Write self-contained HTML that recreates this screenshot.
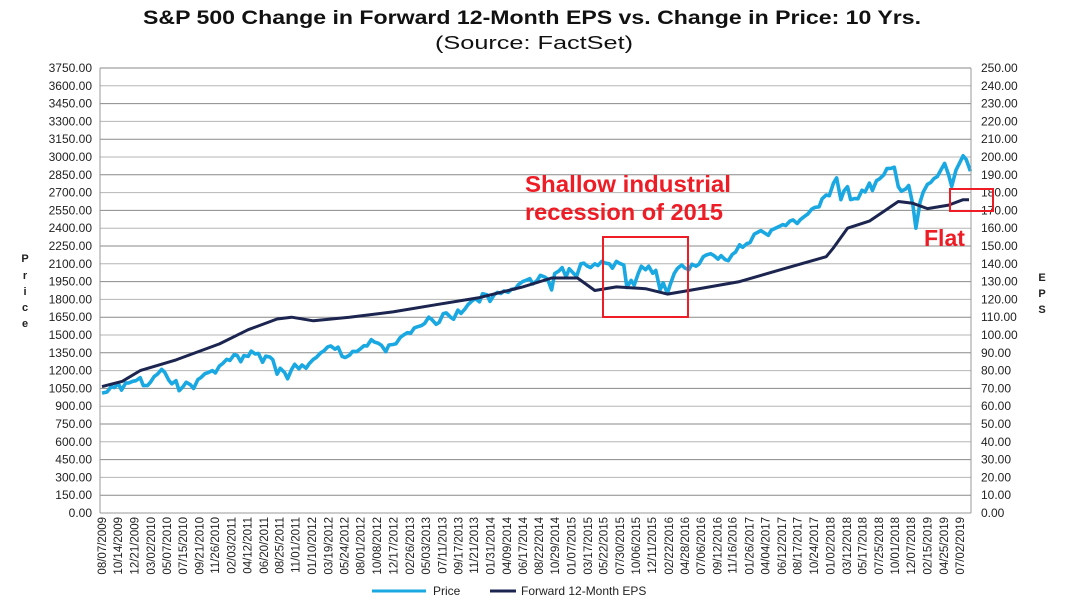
<!DOCTYPE html>
<html><head><meta charset="utf-8"><style>
body{margin:0;background:#fff;}
svg{font-family:"Liberation Sans",Arial,sans-serif;}
</style></head><body>
<svg id="chart" width="1065" height="609" viewBox="0 0 1065 609" xmlns="http://www.w3.org/2000/svg">
<text x="143" y="24" textLength="778" lengthAdjust="spacingAndGlyphs" font-size="19" font-weight="bold" fill="#111">S&amp;P 500 Change in Forward 12-Month EPS vs. Change in Price: 10 Yrs.</text>
<text x="435" y="49" textLength="198" lengthAdjust="spacingAndGlyphs" font-size="18" fill="#111">(Source: FactSet)</text>
<g id="grid"></g>
<g id="leftTicks"></g>
<g id="rightTicks"></g>
<g id="xTicks"></g>
<path id="priceLine" fill="none" stroke="#1aa8e2" stroke-width="3.6" stroke-linejoin="round"/>
<path id="epsLine" fill="none" stroke="#1b2550" stroke-width="3" stroke-linejoin="round"/>
<line x1="100" y1="68" x2="100" y2="513" stroke="#999"/>
<line x1="971" y1="68" x2="971" y2="513" stroke="#999"/>
<line x1="100" y1="513" x2="971" y2="513" stroke="#999"/>
<g font-size="11" font-weight="bold" fill="#222">
<text x="25" y="262" text-anchor="middle">P</text><text x="25" y="279" text-anchor="middle">r</text><text x="25" y="295" text-anchor="middle">i</text><text x="25" y="311" text-anchor="middle">c</text><text x="25" y="327" text-anchor="middle">e</text></g>
<g font-size="11" font-weight="bold" fill="#222">
<text x="1042" y="281" text-anchor="middle">E</text><text x="1042" y="297" text-anchor="middle">P</text><text x="1042" y="313" text-anchor="middle">S</text></g>
<g fill="#ee1c25" font-weight="bold" font-size="23">
<text x="525" y="192" textLength="206" lengthAdjust="spacingAndGlyphs">Shallow industrial</text>
<text x="525" y="220" textLength="198" lengthAdjust="spacingAndGlyphs">recession of 2015</text>
<text x="924" y="246">Flat</text></g>
<rect x="603" y="237" width="85" height="80" fill="none" stroke="#ee1c25" stroke-width="2"/>
<rect x="950" y="189" width="43" height="22" fill="none" stroke="#ee1c25" stroke-width="2"/>
<g>
<line x1="372" y1="591" x2="426" y2="591" stroke="#1aa8e2" stroke-width="3"/>
<text x="433" y="595" font-size="12" fill="#222">Price</text>
<line x1="490" y1="591" x2="516" y2="591" stroke="#1b2550" stroke-width="3"/>
<text x="521" y="595" font-size="12" fill="#222">Forward 12-Month EPS</text>
</g>
</svg>
<script>
const xLabels=["08/07/2009","10/14/2009","12/21/2009","03/02/2010","05/07/2010","07/15/2010","09/21/2010","11/26/2010","02/03/2011","04/12/2011","06/20/2011","08/25/2011","11/01/2011","01/10/2012","03/19/2012","05/24/2012","08/01/2012","10/08/2012","12/17/2012","02/26/2013","05/03/2013","07/11/2013","09/17/2013","11/21/2013","01/31/2014","04/09/2014","06/17/2014","08/22/2014","10/29/2014","01/07/2015","03/17/2015","05/22/2015","07/30/2015","10/06/2015","12/11/2015","02/22/2016","04/28/2016","07/06/2016","09/12/2016","11/16/2016","01/26/2017","04/04/2017","06/12/2017","08/17/2017","10/24/2017","01/02/2018","03/12/2018","05/17/2018","07/25/2018","10/01/2018","12/07/2018","02/15/2019","04/25/2019","07/02/2019"];
const leftTicks=[0,150,300,450,600,750,900,1050,1200,1350,1500,1650,1800,1950,2100,2250,2400,2550,2700,2850,3000,3150,3300,3450,3600,3750];
const rightTicks=[0,10,20,30,40,50,60,70,80,90,100,110,120,130,140,150,160,170,180,190,200,210,220,230,240,250];
// price: two values per month (mid, end) starting Aug 2009
const priceStart="2009-08";
const priceVals=[1010,1020,1065,1057,1090,1036,1095,1096,1110,1115,
1140,1074,1075,1104,1150,1169,1210,1187,1120,1089,1115,1031,1065,1102,1080,1049,1125,1141,1175,1183,1200,1181,1240,1258,
1295,1286,1335,1327,1275,1326,1320,1364,1340,1345,1270,1321,1315,1292,1170,1219,1185,1131,1210,1253,1215,1247,1220,1258,
1295,1312,1350,1366,1400,1408,1380,1398,1320,1310,1330,1362,1360,1379,1410,1407,1460,1441,1430,1412,1360,1416,1420,1426,
1480,1498,1520,1515,1560,1569,1580,1598,1650,1631,1590,1606,1680,1686,1650,1633,1710,1682,1720,1757,1790,1806,1780,1848,
1840,1783,1840,1859,1850,1872,1860,1884,1890,1924,1950,1960,1975,1931,1960,2003,1990,1972,1880,2018,2040,2068,1990,2059,
2020,1995,2100,2105,2080,2068,2100,2086,2120,2107,2100,2063,2120,2104,2090,1900,1960,1920,2020,2079,2050,2080,2020,2044,
1880,1940,1850,1932,2020,2060,2090,2065,2050,2097,2080,2099,2160,2174,2185,2171,2140,2168,2135,2126,2180,2199,2260,2239,
2270,2279,2350,2364,2380,2363,2340,2384,2400,2412,2430,2423,2460,2470,2440,2472,2500,2519,2560,2575,2580,2648,2680,2674,
2780,2824,2640,2714,2750,2641,2650,2648,2720,2705,2780,2718,2800,2816,2850,2902,2905,2914,2750,2712,2730,2760,2600,2400,
2620,2704,2770,2784,2820,2834,2900,2946,2850,2752,2890,2942,3010,2980,2880];
const epsDates=["2009-08-07","2009-11-01","2010-01-15","2010-06-15","2010-12-15","2011-04-15","2011-08-15","2011-10-15","2012-01-15","2012-06-15","2012-12-15","2013-06-15","2013-12-15","2014-06-15","2014-10-15","2015-02-01","2015-04-15","2015-07-15","2015-11-15","2016-02-15","2016-05-15","2016-12-15","2017-06-15","2017-12-15","2018-01-15","2018-03-15","2018-06-15","2018-10-15","2018-12-15","2019-02-15","2019-05-15","2019-07-15","2019-08-09"];
const epsVals=[71,74,80,86,95,103,109,110,108,110,113,117,121,127,132,132,125,127,126,123,125,130,137,144,149,160,164,175,174,171,173,176,176];

const NS="http://www.w3.org/2000/svg";
const T0=Date.UTC(2009,7,7),T1=Date.UTC(2019,6,2),X0=102,X1=960;
function xOf(t){return X0+(t-T0)/(T1-T0)*(X1-X0);}
function yL(v){return 513-v/3750*445;}
function yR(v){return 513-v/250*445;}
function parseD(s){const p=s.split('-');return Date.UTC(+p[0],+p[1]-1,+p[2]);}
function mk(tag,attrs,parent,txt){const e=document.createElementNS(NS,tag);for(const k in attrs)e.setAttribute(k,attrs[k]);if(txt!==undefined)e.textContent=txt;parent.appendChild(e);return e;}
const grid=document.getElementById('grid'),lt=document.getElementById('leftTicks'),rt=document.getElementById('rightTicks'),xt=document.getElementById('xTicks');
leftTicks.forEach((v,i)=>{
  const y=yL(v);
  if(v>0){const g=mk('line',{x1:100,x2:971,y1:y,y2:y,stroke:(i%2?'#8a8a8a':'#b5b5b5'),'stroke-width':1},grid);
  
  }
  const t=mk('text',{x:92,y:y+4,'text-anchor':'end','font-size':12,fill:'#222'},lt,v.toFixed(2));
  
  
});
rightTicks.forEach(v=>{
  const y=yR(v);
  const t=mk('text',{x:981,y:y+4,'font-size':12,fill:'#222'},rt,v.toFixed(2));
  
  
});
xLabels.forEach(s=>{
  const p=s.split('/');const x=xOf(Date.UTC(+p[2],+p[0]-1,+p[1]));
  const t=mk('text',{x:0,y:0,transform:`translate(${x+4},517) rotate(-90)`,'text-anchor':'end','font-size':11.5,fill:'#222'},xt,s);
  
  
});
const ps=priceStart.split('-');let d='';
priceVals.forEach((v,i)=>{
  const m=Math.floor(i/2),h=i%2;
  let t=Date.UTC(+ps[0],+ps[1]-1+m,h?28:15);
  if(i===0)t=T0;
  d+=(i?'L':'M')+xOf(t).toFixed(1)+','+yL(v).toFixed(1);
});
document.getElementById('priceLine').setAttribute('d',d);
let d2='';
epsVals.forEach((v,i)=>{d2+=(i?'L':'M')+xOf(parseD(epsDates[i])).toFixed(1)+','+yR(v).toFixed(1);});
document.getElementById('epsLine').setAttribute('d',d2);
</script>
</body></html>
